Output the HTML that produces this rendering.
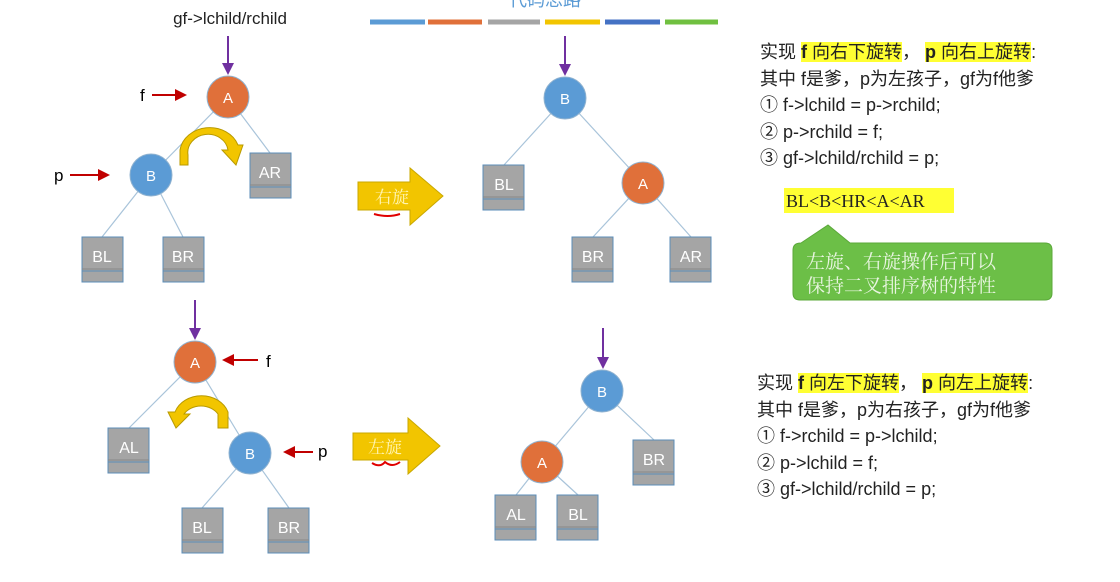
<!DOCTYPE html>
<html><head><meta charset="utf-8"><style>
body{margin:0;background:#fff;width:1120px;height:582px;overflow:hidden;position:relative}
svg{display:block;position:absolute;left:0;top:0}
.t{font-family:"Liberation Sans","Noto Sans CJK SC",sans-serif}
.s{font-family:"Liberation Serif","Noto Serif CJK SC",serif}
.txt{position:absolute;font-family:"Liberation Sans","Noto Sans CJK SC",sans-serif;font-size:18px;color:#222;line-height:26.5px;white-space:nowrap}
.hl{background:#FFFF33}
</style></head><body>
<svg width="1120" height="582" viewBox="0 0 1120 582" xmlns="http://www.w3.org/2000/svg">
<defs>
<marker id="pa" markerWidth="6" markerHeight="6" refX="5" refY="3" orient="auto"><path d="M0,0L6,3L0,6z" fill="#7030A0"/></marker>
<marker id="ra" markerWidth="6" markerHeight="6" refX="5" refY="3" orient="auto"><path d="M0,0L6,3L0,6z" fill="#C00000"/></marker>
<g id="box"><rect x="0" y="0" width="41" height="45" fill="#A5A5A5" stroke="#5B8DB8" stroke-width="1"/><line x1="0" y1="34" x2="41" y2="34" stroke="#5B8DB8"/><line x1="0" y1="32" x2="41" y2="32" stroke="#888"/></g>
</defs>
<g fill="none" stroke="#A9C4DA" stroke-width="1.2">
<line x1="228" y1="97" x2="151" y2="175"/><line x1="228" y1="97" x2="270" y2="153"/>
<line x1="151" y1="175" x2="102" y2="237"/><line x1="151" y1="175" x2="183" y2="237"/>
<line x1="565" y1="98" x2="504" y2="165"/><line x1="565" y1="98" x2="643" y2="183"/>
<line x1="643" y1="183" x2="593" y2="237"/><line x1="643" y1="183" x2="691" y2="237"/>
<line x1="195" y1="362" x2="129" y2="428"/><line x1="195" y1="362" x2="250" y2="453"/>
<line x1="250" y1="453" x2="202" y2="508"/><line x1="250" y1="453" x2="289" y2="508"/>
<line x1="602" y1="391" x2="542" y2="462"/><line x1="602" y1="391" x2="654" y2="440"/>
<line x1="542" y1="462" x2="516" y2="495"/><line x1="542" y1="462" x2="578" y2="495"/>
</g>
<text x="545" y="6" class="t" font-size="18" fill="#5B9BD5" text-anchor="middle">代码思路</text>
<g stroke-width="5"><line x1="370" y1="22" x2="425" y2="22" stroke="#5B9BD5"/><line x1="428" y1="22" x2="482" y2="22" stroke="#E0703A"/><line x1="488" y1="22" x2="540" y2="22" stroke="#A5A5A5"/><line x1="545" y1="22" x2="600" y2="22" stroke="#F2C500"/><line x1="605" y1="22" x2="660" y2="22" stroke="#4472C4"/><line x1="665" y1="22" x2="718" y2="22" stroke="#70C040"/></g>
<g stroke="#7030A0" stroke-width="2" marker-end="url(#pa)">
<line x1="228" y1="36" x2="228" y2="73"/><line x1="565" y1="36" x2="565" y2="74"/><line x1="195" y1="300" x2="195" y2="338"/><line x1="603" y1="328" x2="603" y2="367"/></g>
<g stroke="#C00000" stroke-width="2" marker-end="url(#ra)">
<line x1="152" y1="95" x2="185" y2="95"/><line x1="70" y1="175" x2="108" y2="175"/><line x1="258" y1="360" x2="224" y2="360"/><line x1="313" y1="452" x2="285" y2="452"/></g>
<text x="140" y="101" class="t" font-size="17">f</text>
<text x="54" y="181" class="t" font-size="17">p</text>
<text x="266" y="367" class="t" font-size="17">f</text>
<text x="318" y="457" class="t" font-size="17">p</text>
<text x="230" y="24" class="t" font-size="17" text-anchor="middle" fill="#222">gf-&gt;lchild/rchild</text>
<path d="M180,165 L180,150 A30,26 0 0 1 238,145 L243,145 L236,165 L222,150 L228,150 A20,18 0 0 0 188,155 L188,165 Z" fill="#F2C500" stroke="#B89A00" stroke-width="1"/>
<path d="M228,428 L228,412 A28,24 0 0 0 175,412 L168,412 L176,428 L190,414 L184,414 A20,17 0 0 1 218,414 L218,428 Z" fill="#F2C500" stroke="#B89A00" stroke-width="1"/>
<path d="M358,182 L410,182 L410,168 L443,196 L410,225 L410,210 L358,210 Z" fill="#F2C500" stroke="#C9A800"/>
<text x="375" y="203" class="s" font-size="17" fill="#FFF4B0">右旋</text>
<path d="M374,214 Q388,218 400,214" stroke="#E00000" stroke-width="2" fill="none"/>
<path d="M353,433 L408,433 L408,418 L440,446 L408,474 L408,460 L353,460 Z" fill="#F2C500" stroke="#C9A800"/>
<text x="368" y="453" class="s" font-size="17" fill="#FFF4B0">左旋</text>
<path d="M372,463 Q380,468 385,462 Q392,468 400,462" stroke="#E00000" stroke-width="2" fill="none"/>
<g stroke="#8FB2D0" stroke-width="1">
<circle cx="228" cy="97" r="21" fill="#E0703A"/><circle cx="151" cy="175" r="21" fill="#5B9BD5"/>
<circle cx="565" cy="98" r="21" fill="#5B9BD5"/><circle cx="643" cy="183" r="21" fill="#E0703A"/>
<circle cx="195" cy="362" r="21" fill="#E0703A"/><circle cx="250" cy="453" r="21" fill="#5B9BD5"/>
<circle cx="602" cy="391" r="21" fill="#5B9BD5"/><circle cx="542" cy="462" r="21" fill="#E0703A"/>
</g>
<g class="t" font-size="15" text-anchor="middle" fill="#fff">
<text x="228" y="103">A</text><text x="151" y="181">B</text><text x="565" y="104">B</text><text x="643" y="189">A</text>
<text x="195" y="368">A</text><text x="250" y="459">B</text><text x="602" y="397">B</text><text x="542" y="468">A</text>
</g>
<g>
<use href="#box" x="250" y="153"/><use href="#box" x="82" y="237"/><use href="#box" x="163" y="237"/>
<use href="#box" x="483" y="165"/><use href="#box" x="572" y="237"/><use href="#box" x="670" y="237"/>
<use href="#box" x="108" y="428"/><use href="#box" x="182" y="508"/><use href="#box" x="268" y="508"/>
<use href="#box" x="633" y="440"/><use href="#box" x="495" y="495"/><use href="#box" x="557" y="495"/>
</g>
<g class="t" font-size="16" text-anchor="middle" fill="#fff">
<text x="270" y="178">AR</text><text x="102" y="262">BL</text><text x="183" y="262">BR</text>
<text x="504" y="190">BL</text><text x="593" y="262">BR</text><text x="691" y="262">AR</text>
<text x="129" y="453">AL</text><text x="202" y="533">BL</text><text x="289" y="533">BR</text>
<text x="654" y="465">BR</text><text x="516" y="520">AL</text><text x="578" y="520">BL</text>
</g>
<rect x="784" y="188" width="170" height="25" fill="#FFFF33"/>
<text x="786" y="207" class="s" font-size="18" fill="#222">BL&lt;B&lt;HR&lt;A&lt;AR</text>
<path d="M801,243 L828,225 L850,243 L1045,243 Q1052,243 1052,250 L1052,293 Q1052,300 1045,300 L800,300 Q793,300 793,293 L793,250 Q793,243 801,243 Z" fill="#6CBF47" stroke="#5BA83A"/>
<g class="s" font-size="19" fill="#E8F5E0"><text x="806" y="268">左旋、右旋操作后可以</text><text x="806" y="292">保持二叉排序树的特性</text></g>
</svg>
<div class="txt" style="left:760px;top:39px">实现 <span class="hl"><b>f</b> 向右下旋转</span>， <span class="hl"><b>p</b> 向右上旋转</span>:<br>其中 f是爹，p为左孩子，gf为f他爹<br>① f-&gt;lchild = p-&gt;rchild;<br>② p-&gt;rchild = f;<br>③ gf-&gt;lchild/rchild = p;</div>
<div class="txt" style="left:757px;top:370px">实现 <span class="hl"><b>f</b> 向左下旋转</span>， <span class="hl"><b>p</b> 向左上旋转</span>:<br>其中 f是爹，p为右孩子，gf为f他爹<br>① f-&gt;rchild = p-&gt;lchild;<br>② p-&gt;lchild = f;<br>③ gf-&gt;lchild/rchild = p;</div>
</body></html>
